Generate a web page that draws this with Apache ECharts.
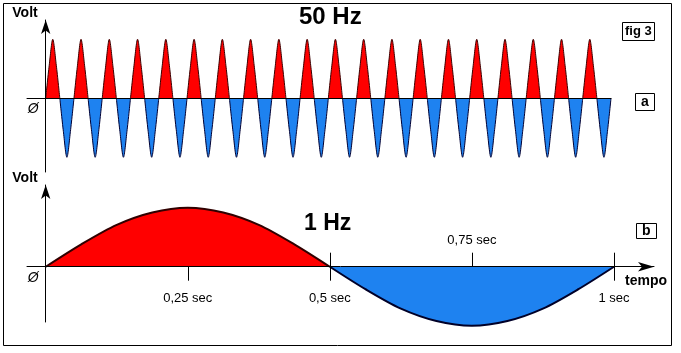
<!DOCTYPE html>
<html>
<head>
<meta charset="utf-8">
<script src="https://cdn.jsdelivr.net/npm/echarts@6/dist/echarts.min.js"></script>
<style>
html, body { margin: 0; padding: 0; background: #fff; }
#chart { width: 681px; height: 353px; }
</style>
</head>
<body>
<div id="chart"></div>
<script>
// fig a: 50 Hz, one period (samples every 1/8 period), shown 20 times
var period50 = 0.02;
var cycles50 = 20;
var cycle50 = [0, 0.56, 1, 0.56, 0, -0.56, -1, -0.56];

// fig b: 1 Hz, one period, samples every 1/16 s
var step1 = 0.0625;
var wave1 = [0, 0.38, 0.71, 0.92, 1, 0.92, 0.71, 0.38, 0, -0.38, -0.71, -0.92, -1, -0.92, -0.71, -0.38, 0];

// tick labels of fig b
var tickValues = [0.25, 0.5, 0.75, 1];
var tickLabels = ['0,25 sec', '0,5 sec', '0,75 sec', '1 sec'];

var FONT = 'Liberation Sans';

// points -> positive half (red) and negative half (blue), broken where the other half is
function splitHalves(points) {
    var pos = [], neg = [];
    points.forEach(function (p) {
        pos.push([p[0], p[1] >= 0 ? p[1] : '-']);
        neg.push([p[0], p[1] <= 0 ? p[1] : '-']);
    });
    return { pos: pos, neg: neg };
}

var pts50 = [];
for (var c = 0; c < cycles50; c++) {
    for (var k = 0; k < cycle50.length; k++) {
        pts50.push([(c * cycle50.length + k) * period50 / cycle50.length, cycle50[k]]);
    }
}
pts50.push([cycles50 * period50, 0]);

var pts1 = wave1.map(function (v, i) { return [i * step1, v]; });

var h50 = splitHalves(pts50);
var h1 = splitHalves(pts1);

function tickText(v) {
    var i = tickValues.indexOf(v);
    return i < 0 ? '' : tickLabels[i];
}

var zeroLabel = {
    show: true, customValues: [0], formatter: function () { return '\u00d8'; },
    margin: 7, verticalAlign: 'top', padding: [4, 0, 0, 0],
    fontFamily: FONT, fontSize: 14, fontStyle: 'italic', color: '#000'
};
var voltName = {
    fontFamily: FONT, fontSize: 14, fontWeight: 'bold', color: '#000',
    align: 'right', verticalAlign: 'middle', padding: [0, 8, 0, 0]
};

var myChart = echarts.init(document.getElementById('chart'));
var option = {
    backgroundColor: '#fff',
    animation: false,
    graphic: [
        {
            type: 'rect',
            shape: { x: 3.5, y: 3.5, width: 668, height: 342 },
            style: { fill: 'none', stroke: '#000', lineWidth: 1 }
        }
    ],
    title: [
        { text: '50 Hz', left: 299, top: 5, padding: 0,
          textStyle: { fontFamily: FONT, fontSize: 24, fontWeight: 'bold', color: '#000' } },
        { text: '1 Hz', left: 304, top: 212, padding: 0,
          textStyle: { fontFamily: FONT, fontSize: 23, fontWeight: 'bold', color: '#000' } },
        { text: 'fig 3', left: 622, top: 22, padding: [3, 3, 3, 3], borderWidth: 1, borderColor: '#000',
          textStyle: { fontFamily: FONT, fontSize: 13, fontWeight: 'bold', color: '#000' } },
        { text: 'a', left: 635, top: 93, padding: [2, 6, 2, 6], borderWidth: 1, borderColor: '#000',
          textStyle: { fontFamily: FONT, fontSize: 14, fontWeight: 'bold', color: '#000' } },
        { text: 'b', left: 636, top: 223, padding: [1, 6, 1, 6], borderWidth: 1, borderColor: '#000',
          textStyle: { fontFamily: FONT, fontSize: 14, fontWeight: 'bold', color: '#000' } }
    ],
    grid: [
        { left: 27, right: 70, top: 20, bottom: 181 },        // fig a, waves
        { left: 27, right: 27, top: 185, bottom: 31 },        // fig b, wave
        { left: 45.7, right: 70, top: 20, bottom: 254.7 },    // fig a, above zero (labels)
        { left: 45.7, right: 27, top: 185, bottom: 86.3 }     // fig b, above zero (ticks, labels)
    ],
    xAxis: [
        {   // fig a zero line
            gridIndex: 0, type: 'value', min: -0.01323, max: 0.4, z: 5,
            axisLine: { onZero: true, onZeroAxisIndex: 0, lineStyle: { color: '#000', width: 1 } },
            axisTick: { show: false }, axisLabel: { show: false }, splitLine: { show: false }
        },
        {   // fig b zero line with arrow
            gridIndex: 1, type: 'value', min: -0.0329, max: 1.0704, z: 5,
            name: 'tempo', nameLocation: 'end', nameGap: 13,
            nameTextStyle: { fontFamily: FONT, fontSize: 14, fontWeight: 'bold', color: '#000',
                             align: 'right', verticalAlign: 'top', padding: [7, 0, 0, 0] },
            axisLine: { onZero: true, onZeroAxisIndex: 1, symbol: ['none', 'arrow'], symbolSize: [7, 16],
                        lineStyle: { color: '#000', width: 1 } },
            axisTick: { show: false }, axisLabel: { show: false }, splitLine: { show: false }
        },
        {   // fig a helper
            gridIndex: 2, type: 'value', min: 0, max: 0.4, show: false
        },
        {   // fig b: ticks and labels below the zero line
            gridIndex: 3, type: 'value', min: 0, max: 1.0704, z: 5,
            axisLine: { show: false },
            axisTick: { show: true, customValues: [0.25, 0.5, 1], length: 14, lineStyle: { color: '#000' } },
            axisLabel: { show: true, customValues: [0.25, 0.5, 1], margin: 25, formatter: tickText,
                         fontFamily: FONT, fontSize: 13, color: '#000' },
            splitLine: { show: false }
        },
        {   // fig b: ticks and label above the zero line
            gridIndex: 3, type: 'value', min: 0, max: 1.0704, z: 5, position: 'bottom',
            axisLine: { show: false },
            axisTick: { show: true, inside: true, customValues: [0.5, 0.75, 1], length: 14, lineStyle: { color: '#000' } },
            axisLabel: { show: true, inside: true, customValues: [0.75], margin: 20, formatter: tickText,
                         fontFamily: FONT, fontSize: 13, color: '#000' },
            splitLine: { show: false }
        }
    ],
    yAxis: [
        {
            gridIndex: 0, type: 'value', min: -1.249, max: 1.327, z: 5,
            name: 'Volt', nameLocation: 'end', nameGap: 7, nameTextStyle: voltName,
            axisLine: { onZero: true, onZeroAxisIndex: 0, symbol: ['none', 'arrow'], symbolSize: [7, 14],
                        lineStyle: { color: '#000', width: 1 } },
            axisTick: { show: false }, axisLabel: { show: false }, splitLine: { show: false }
        },
        {
            gridIndex: 1, type: 'value', min: -0.937, max: 1.385, z: 5,
            name: 'Volt', nameLocation: 'end', nameGap: 7, nameTextStyle: voltName,
            axisLine: { onZero: true, onZeroAxisIndex: 1, symbol: ['none', 'arrow'], symbolSize: [7, 14],
                        lineStyle: { color: '#000', width: 1 } },
            axisTick: { show: false }, axisLabel: { show: false }, splitLine: { show: false }
        },
        {   // fig a: zero label
            gridIndex: 2, type: 'value', min: 0, max: 1,
            axisLine: { show: false }, axisTick: { show: false }, splitLine: { show: false },
            axisLabel: zeroLabel
        },
        {   // fig b: zero label
            gridIndex: 3, type: 'value', min: 0, max: 1,
            axisLine: { show: false }, axisTick: { show: false }, splitLine: { show: false },
            axisLabel: zeroLabel
        }
    ],
    series: [
        {
            name: '50 Hz +', type: 'line', xAxisIndex: 0, yAxisIndex: 0, data: h50.pos,
            smooth: 0.3, showSymbol: false, clip: false, silent: true,
            lineStyle: { color: '#3a0000', width: 1 },
            areaStyle: { color: '#ff0000', opacity: 1 }
        },
        {
            name: '50 Hz -', type: 'line', xAxisIndex: 0, yAxisIndex: 0, data: h50.neg,
            smooth: 0.3, showSymbol: false, clip: false, silent: true,
            lineStyle: { color: '#000033', width: 1 },
            areaStyle: { color: '#1e82f0', opacity: 1 }
        },
        {
            name: '1 Hz +', type: 'line', xAxisIndex: 1, yAxisIndex: 1, data: h1.pos,
            smooth: 0.3, showSymbol: false, clip: false, silent: true,
            lineStyle: { color: '#300000', width: 2 },
            areaStyle: { color: '#ff0000', opacity: 1 }
        },
        {
            name: '1 Hz -', type: 'line', xAxisIndex: 1, yAxisIndex: 1, data: h1.neg,
            smooth: 0.3, showSymbol: false, clip: false, silent: true,
            lineStyle: { color: '#000028', width: 2 },
            areaStyle: { color: '#1e82f0', opacity: 1 }
        }
    ]
};
myChart.setOption(option);
</script>
</body>
</html>
